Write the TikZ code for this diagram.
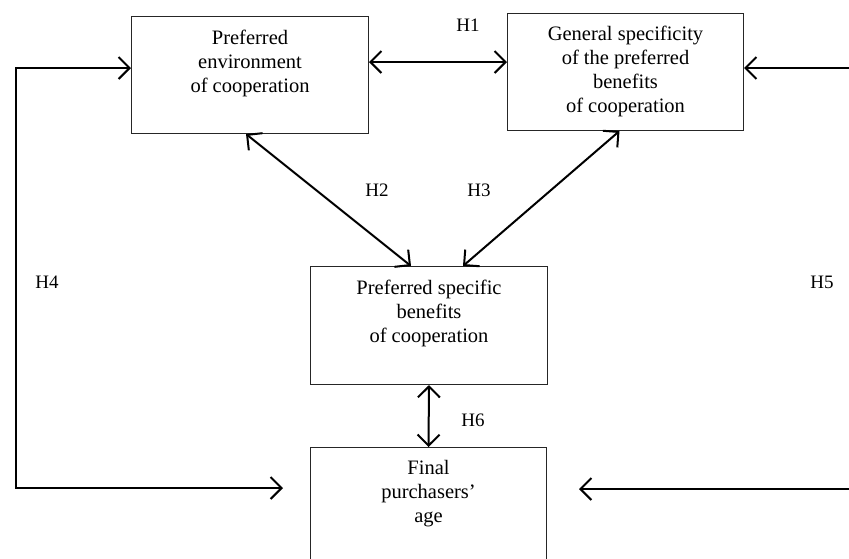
\documentclass[tikz,border=0pt]{standalone}
\usepackage{fontspec}
\setmainfont{Liberation Serif}
\usetikzlibrary{arrows.meta}
\begin{document}
\begin{tikzpicture}[x=1pt,y=-1pt,
  box/.style={draw=black!85,line width=1pt,inner sep=0pt,anchor=north west},
  boxtext/.style={anchor=north,align=center,inner sep=0pt,font=\fontsize{20.5}{24}\selectfont},
  hlabel/.style={inner sep=0pt,font=\fontsize{19}{20}\selectfont},
  conn/.style={line width=2pt,{Straight Barb[length=11pt,width=22pt]}-{Straight Barb[length=11pt,width=22pt]}},
  oneway/.style={line width=2pt,-{Straight Barb[length=11pt,width=22pt]}}]
\useasboundingbox (0,0) rectangle (849,558);
\clip (0,0) rectangle (849,558);
% boxes
\node[box,minimum width=237pt,minimum height=117pt] (A) at (131,16) {};
\node[box,minimum width=236pt,minimum height=117pt] (B) at (507,13) {};
\node[box,minimum width=237pt,minimum height=118pt] (C) at (310,266) {};
\node[box,minimum width=236pt,minimum height=140pt] (D) at (310,447) {};
% box texts
\node[boxtext] (At) at ([yshift=-14pt]A.north) {Preferred\\environment\\of cooperation};
\node[boxtext] (Bt) at ([yshift=-13pt]B.north) {General specificity\\of the preferred\\benefits\\of cooperation};
\node[boxtext] (Ct) at ([yshift=-14pt]C.north) {Preferred specific\\benefits\\of cooperation};
\node[boxtext] (Dt) at ([yshift=-13pt]D.north) {Final\\purchasers’\\age};
% labels
\node[hlabel] (H1) at (468,25) {H1};
\node[hlabel] (H2) at (377,190) {H2};
\node[hlabel] (H3) at (479,190) {H3};
\node[hlabel] (H4) at (47,282) {H4};
\node[hlabel] (H5) at (822,282) {H5};
\node[hlabel] (H6) at (473,420) {H6};
% connectors
\draw[conn] (A.east |- 0,62) -- (B.west |- 0,62);
\draw[conn] ([xshift=-4pt]A.south) -- ([xshift=-18pt]C.north);
\draw[conn] ([xshift=-6pt]B.south) -- ([xshift=34pt]C.north);
\draw[conn] (C.south) -- (D.north);
% left loop H4
\coordinate (L1) at (16,68);
\coordinate (L2) at (16,488);
\draw[oneway] (L2) -- (L1) -- (A.west |- L1);
\draw[oneway] (L1) -- (L2) -- ([xshift=-27pt]D.west |- L2);
% right loop H5
\coordinate (R1) at (855,68);
\coordinate (R2) at (855,489);
\draw[oneway] (R1) -- (B.east |- R1);
\draw[oneway] (R2) -- ([xshift=32pt]D.east |- R2);
\end{tikzpicture}
\end{document}
